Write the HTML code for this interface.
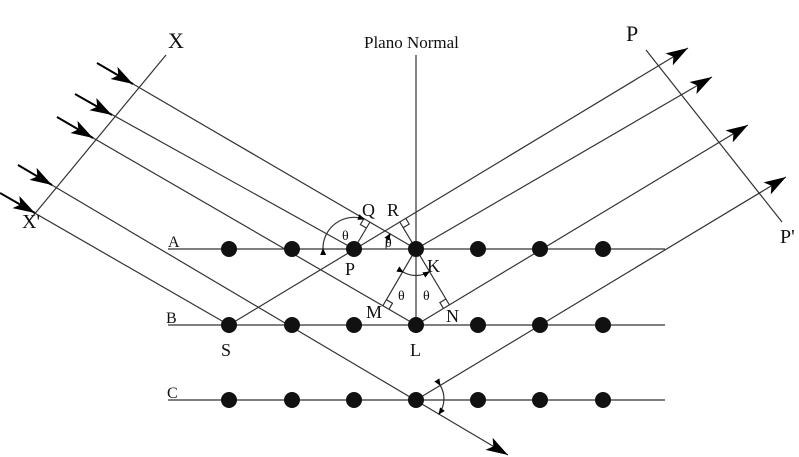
<!DOCTYPE html><html><head><style>body{margin:0;background:#fff}svg{display:block}text{font-family:"Liberation Serif",serif;fill:#111}</style></head><body>
<svg width="799" height="457" viewBox="0 0 799 457">
<defs>
<marker id="b" markerWidth="24" markerHeight="14" refX="22" refY="7" orient="auto" markerUnits="userSpaceOnUse"><path d="M0,0 L22,7 L0,14 L5,7z" fill="#000"/></marker>
<marker id="s" markerWidth="7" markerHeight="6" refX="6" refY="3" orient="auto" markerUnits="userSpaceOnUse"><path d="M0,0 L7,3 L0,6z" fill="#000"/></marker></defs>
<g stroke="#333" stroke-width="1.2" fill="none">
<line x1="168" y1="249" x2="665" y2="249"/><line x1="168" y1="325" x2="665" y2="325"/><line x1="168" y1="400" x2="665" y2="400"/>
<line x1="416" y1="55" x2="416" y2="325"/>
<line x1="166" y1="55" x2="28" y2="222"/><line x1="646" y1="50" x2="782" y2="222"/>
<line x1="97" y1="63" x2="416" y2="249"/><line x1="75" y1="94" x2="354" y2="249"/><line x1="57" y1="117" x2="416" y2="325"/>
<line x1="18" y1="165" x2="508" y2="455" marker-end="url(#b)"/><line x1="0" y1="193" x2="229" y2="325"/>
<line x1="229" y1="325" x2="688" y2="48" marker-end="url(#b)"/><line x1="416" y1="249" x2="712" y2="77" marker-end="url(#b)"/>
<line x1="416" y1="325" x2="748" y2="125" marker-end="url(#b)"/><line x1="416" y1="400" x2="786" y2="177" marker-end="url(#b)"/>
</g>
<g stroke="#000" stroke-width="2" fill="none">
<line x1="97" y1="63" x2="133" y2="84" marker-end="url(#b)"/>
<line x1="75" y1="94" x2="112" y2="115" marker-end="url(#b)"/>
<line x1="57" y1="117" x2="93" y2="138" marker-end="url(#b)"/>
<line x1="18" y1="165" x2="52" y2="185" marker-end="url(#b)"/>
<line x1="0" y1="193" x2="35" y2="213" marker-end="url(#b)"/>
</g>
<g stroke="#333" stroke-width="1.2" fill="none">
<line x1="354" y1="249" x2="370" y2="222"/><line x1="416" y1="249" x2="399.6" y2="221.7"/>
<line x1="416" y1="249" x2="382.9" y2="305.7"/><line x1="416" y1="249" x2="449.5" y2="305"/>
<path d="M364,218.5 L360.4,224.5 L366.4,228"/>
<path d="M405.6,218.1 L409.2,224.1 L403.2,227.7"/>
<path d="M389,309.2 L392.5,303.2 L386.4,299.7"/>
<path d="M443.5,308.6 L439.9,302.6 L445.9,299"/>
<path d="M323,249 A31,31 0 0 1 364,219" marker-start="url(#s)" marker-end="url(#s)"/>
<path d="M386,249 A30,30 0 0 1 390,234" marker-end="url(#s)"/>
<path d="M403,272 A26,26 0 0 0 429,272" marker-start="url(#s)" marker-end="url(#s)"/>
<path d="M440,385 A26,26 0 0 1 439,414" marker-start="url(#s)" marker-end="url(#s)"/>
</g>
<g fill="#111"><circle cx="229" cy="249" r="8"/><circle cx="292" cy="249" r="8"/><circle cx="354" cy="249" r="8"/><circle cx="416" cy="249" r="8"/><circle cx="478" cy="249" r="8"/><circle cx="540" cy="249" r="8"/><circle cx="603" cy="249" r="8"/>
<circle cx="229" cy="325" r="8"/><circle cx="292" cy="325" r="8"/><circle cx="354" cy="325" r="8"/><circle cx="416" cy="325" r="8"/><circle cx="478" cy="325" r="8"/><circle cx="540" cy="325" r="8"/><circle cx="603" cy="325" r="8"/>
<circle cx="229" cy="400" r="8"/><circle cx="292" cy="400" r="8"/><circle cx="354" cy="400" r="8"/><circle cx="416" cy="400" r="8"/><circle cx="478" cy="400" r="8"/><circle cx="540" cy="400" r="8"/><circle cx="603" cy="400" r="8"/></g>
<g font-size="18"><text x="168" y="48" font-size="22">X</text><text x="22" y="228" font-size="20">X'</text><text x="626" y="41" font-size="22">P</text><text x="780" y="243" font-size="20">P'</text>
<text x="168" y="247" font-size="16">A</text><text x="166" y="323" font-size="16">B</text><text x="167" y="398" font-size="16">C</text>
<text x="345" y="275">P</text><text x="221" y="356">S</text><text x="410" y="356">L</text><text x="366" y="318">M</text><text x="446" y="322">N</text><text x="427" y="272">K</text><text x="362" y="216">Q</text><text x="387" y="216">R</text>
<text x="364" y="48" font-size="17">Plano Normal</text>
<g font-size="14"><text x="342" y="240">θ</text><text x="385" y="247">θ</text><text x="398" y="300">θ</text><text x="423" y="300">θ</text></g></g>
</svg></body></html>
